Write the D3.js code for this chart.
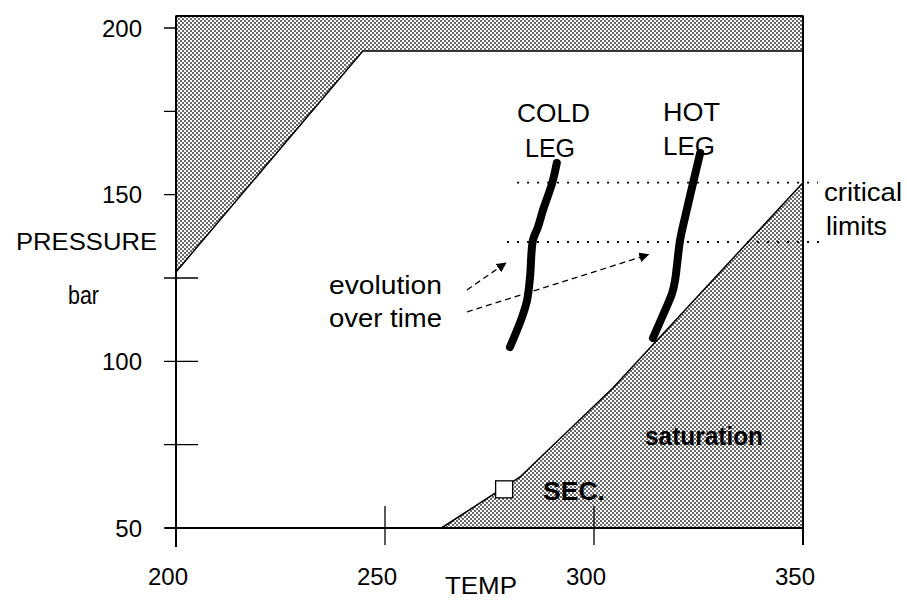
<!DOCTYPE html>
<html>
<head>
<meta charset="utf-8">
<script src="https://cdn.jsdelivr.net/npm/d3@7"></script>
<style>
  html, body { margin: 0; padding: 0; background: #fff; }
  svg { display: block; font-family: "Liberation Sans", Arial, Helvetica, sans-serif; }
</style>
</head>
<body>
<svg id="chart" width="907" height="600"></svg>
<script>
// ---------------- data ----------------
const xTicks = [200, 250, 300, 350];
const yTicks = [50, 75, 100, 125, 150, 175, 200];
const yTickLabels = [50, 100, 150, 200];
const frameTopP = 203.6;

// forbidden zone (upper-left shaded)
const upperZoneT = [200, 244.7, 350, 350, 200];
const upperZoneP = [126.8, 193.1, 193.1, frameTopP, frameTopP];

// saturation zone (lower-right shaded)
const satZoneT = [263.5, 282.3, 304.5, 350, 350];
const satZoneP = [50, 65.3, 92, 153.6, 50];

// cold leg trajectory
const coldLegT = [291.1, 290.0, 287.8, 286.6, 285.4, 284.7, 284.0, 282.8, 279.9];
const coldLegP = [159.5, 153.5, 145.4, 140.3, 136.4, 125.3, 118.4, 113.3, 104.3];

// hot leg trajectory
const hotLegT = [325.4, 323.7, 321.8, 320.6, 319.4, 318.7, 316.3, 314.1];
const hotLegP = [162.5, 153.5, 143.3, 136.4, 124.4, 120.5, 113.3, 107.0];

// critical limits (dotted)
const criticalP = [153.6, 135.8];
const criticalStartT = [281.6, 279.2];
const criticalEndT = [353.6, 354.5];

// secondary point
const secT = [278.5];
const secP = [61.6];

// "evolution over time" arrows
const arrowStartT = [269.6, 269.6];
const arrowStartP = [121.4, 114.8];
const arrowEndT = [278.9, 313.0];
const arrowEndP = [129.5, 132.0];

// ---------------- scales ----------------
const svg = d3.select("#chart");
const x = d3.scaleLinear().domain([200, 350]).range([176, 803]);
const y = d3.scaleLinear().domain([50, 200]).range([528, 28]);

const defs = svg.append("defs");
const pat = defs.append("pattern").attr("id", "stip")
  .attr("patternUnits", "userSpaceOnUse").attr("width", 4).attr("height", 4);
pat.append("rect").attr("width", 4).attr("height", 4).attr("fill", "#fff");
pat.append("rect").attr("x", 0).attr("y", 0).attr("width", 2).attr("height", 2).attr("fill", "#6a6a6a");
pat.append("rect").attr("x", 2).attr("y", 2).attr("width", 2).attr("height", 2).attr("fill", "#6a6a6a");

const mk = defs.append("marker").attr("id", "arrow")
  .attr("viewBox", "0 0 10 10").attr("refX", 9).attr("refY", 5)
  .attr("markerWidth", 10).attr("markerHeight", 10)
  .attr("markerUnits", "userSpaceOnUse").attr("orient", "auto");
mk.append("path").attr("d", "M0,0 L10,5 L0,10 Z").attr("fill", "#000");

// ---------------- y ticks (drawn below shading) ----------------
svg.append("g").selectAll("line").data(yTicks).join("line")
  .attr("x1", x(200) - 12).attr("x2", x(200) + 22)
  .attr("y1", d => y(d)).attr("y2", d => y(d))
  .attr("stroke", "#000").attr("stroke-width", 1.3);

// ---------------- shaded zones ----------------
const poly = (T, P) => T.map((t, i) => [x(t), y(P[i])]);
svg.append("path")
  .attr("d", d3.line()(poly(upperZoneT, upperZoneP)) + "Z")
  .attr("fill", "url(#stip)").attr("stroke", "#000").attr("stroke-width", 1.5);
svg.append("path")
  .attr("d", d3.line()(poly(satZoneT, satZoneP)) + "Z")
  .attr("fill", "url(#stip)").attr("stroke", "#000").attr("stroke-width", 1.5);

// ---------------- frame / axes ----------------
const fr = svg.append("g").attr("stroke", "#000").attr("stroke-width", 2).attr("fill", "none");
fr.append("line").attr("x1", x(200)).attr("x2", x(200)).attr("y1", y(frameTopP)).attr("y2", y(50) + 19);
fr.append("line").attr("x1", x(200)).attr("x2", x(350)).attr("y1", y(frameTopP)).attr("y2", y(frameTopP));
fr.append("line").attr("x1", x(200) - 11).attr("x2", x(350)).attr("y1", y(50)).attr("y2", y(50));

// x ticks
svg.append("g").selectAll("line").data(xTicks.slice(1)).join("line")
  .attr("x1", d => x(d)).attr("x2", d => x(d))
  .attr("y1", d => d === 350 ? y(frameTopP) : y(50) - 22).attr("y2", y(50) + 17)
  .attr("stroke", "#000").attr("stroke-width", d => d === 350 ? 2 : 1.3);

// tick labels
svg.append("g").selectAll("text").data(yTickLabels).join("text")
  .attr("x", 142).attr("y", d => y(d)).attr("dy", "0.36em")
  .attr("text-anchor", "end").attr("font-size", 24).text(d => d);
svg.append("g").selectAll("text").data(xTicks).join("text")
  .attr("x", d => x(d) - 8).attr("y", 585)
  .attr("text-anchor", "middle").attr("font-size", 24).text(d => d);

// ---------------- critical limits ----------------
svg.append("g").selectAll("line").data(criticalP).join("line")
  .attr("x1", (d, i) => x(criticalStartT[i])).attr("x2", (d, i) => x(criticalEndT[i]))
  .attr("y1", d => y(d)).attr("y2", d => y(d))
  .attr("stroke", "#000").attr("stroke-width", 1.8)
  .attr("stroke-dasharray", "2,8");

// ---------------- arrows ----------------
svg.append("g").selectAll("line").data(arrowStartT).join("line")
  .attr("x1", (d, i) => x(arrowStartT[i])).attr("y1", (d, i) => y(arrowStartP[i]))
  .attr("x2", (d, i) => x(arrowEndT[i])).attr("y2", (d, i) => y(arrowEndP[i]))
  .attr("stroke", "#000").attr("stroke-width", 1.3)
  .attr("stroke-dasharray", "6,4")
  .attr("marker-end", "url(#arrow)");

// ---------------- legs ----------------
const legLine = d3.line().curve(d3.curveCatmullRom);
[[coldLegT, coldLegP], [hotLegT, hotLegP]].forEach(([T, P]) => {
  svg.append("path").attr("d", legLine(poly(T, P)))
    .attr("fill", "none").attr("stroke", "#000").attr("stroke-width", 8)
    .attr("stroke-linecap", "round").attr("stroke-linejoin", "round");
});

// ---------------- secondary marker ----------------
svg.append("g").selectAll("rect").data(secT).join("rect")
  .attr("x", (d) => x(d) - 8.5).attr("y", (d, i) => y(secP[i]) - 8.5)
  .attr("width", 17).attr("height", 17)
  .attr("fill", "#fff").attr("stroke", "#000").attr("stroke-width", 1.3);

// ---------------- labels ----------------
const labels = [
  {t: "COLD", x: 517, y: 122, w: 73, fs: 25},
  {t: "LEG", x: 525, y: 157, w: 50, fs: 25},
  {t: "HOT", x: 663, y: 121, w: 57, fs: 25},
  {t: "LEG", x: 663, y: 155, w: 52, fs: 25},
  {t: "critical", x: 824, y: 201, w: 78, fs: 25},
  {t: "limits", x: 826, y: 235, w: 61, fs: 25},
  {t: "PRESSURE", x: 16, y: 250, w: 141, fs: 24},
  {t: "bar", x: 68, y: 304, w: 31, fs: 25},
  {t: "evolution", x: 329, y: 294, w: 113, fs: 25},
  {t: "over time", x: 329, y: 327, w: 113, fs: 25},
  {t: "saturation", x: 645, y: 445, w: 118, fs: 25, b: true},
  {t: "SEC.", x: 543, y: 500, w: 62, fs: 25, b: true},
  {t: "TEMP", x: 445, y: 594, w: 72, fs: 24}
];
svg.append("g").selectAll("text").data(labels).join("text")
  .attr("x", d => d.x).attr("y", d => d.y)
  .attr("font-size", d => d.fs)
  .attr("font-weight", d => d.b ? "bold" : "normal")
  .attr("textLength", d => d.w).attr("lengthAdjust", "spacingAndGlyphs")
  .text(d => d.t);
</script>
</body>
</html>
